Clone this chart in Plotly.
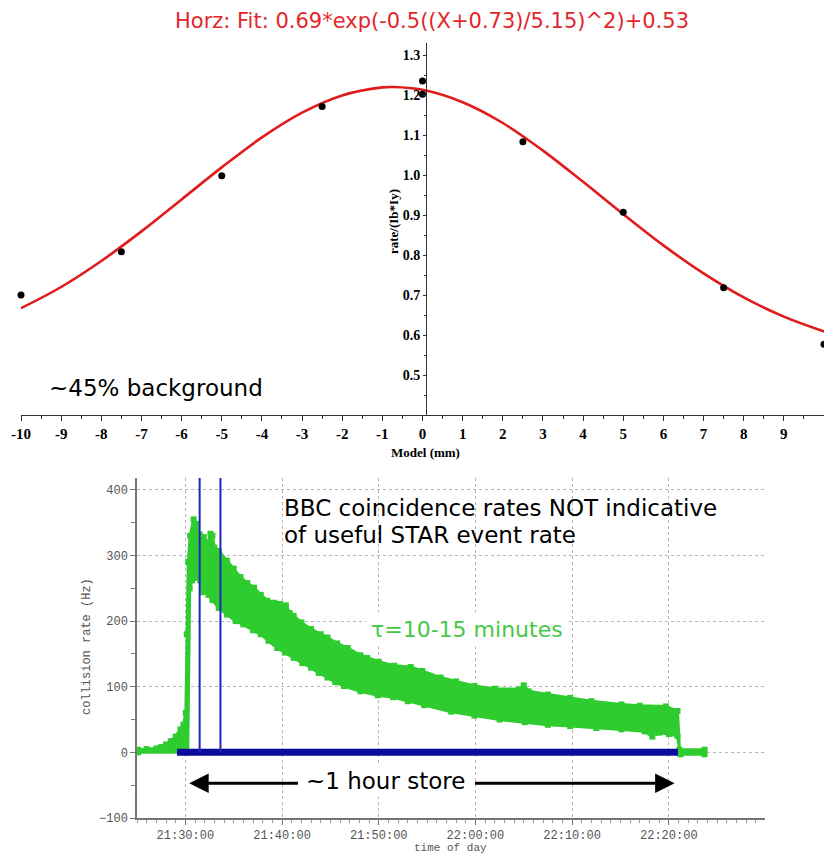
import plotly.graph_objects as go
import pandas as pd

# page is 832x864 and the HTML body keeps an 8 px margin: the figure fits inside it
OFF = 8
W, H = 832 - 2 * OFF, 864 - 2 * OFF


def PX(x):
    return (x - OFF) / W


def PY(y):
    return 1 - (y - OFF) / H


# ---------------- top chart data ----------------
scan_pos_mm = [-10, -7.5, -5, -2.5, 0, 0, 2.5, 5, 7.5, 10]
scan_rate = [0.70, 0.808, 0.998, 1.171, 1.235, 1.202, 1.083, 0.907, 0.718, 0.577]

fit_x = [-10, -9, -8, -7, -6, -5, -4, -3, -2, -1, -0.73, 0, 1, 2, 3, 4, 5, 6, 7, 8, 9, 10]
fit_y = [0.667, 0.720, 0.785, 0.859, 0.939, 1.019, 1.094, 1.156, 1.199, 1.219, 1.220,
         1.213, 1.182, 1.130, 1.061, 0.983, 0.902, 0.824, 0.754, 0.694, 0.646, 0.609]

top_yticks = [0.5, 0.6, 0.7, 0.8, 0.9, 1.0, 1.1, 1.2, 1.3]
top_xticks = list(range(-10, 11))

# ---------------- bottom chart data (minutes after 21:30:00) ----------------
upper_min = [-4.9, -4.0, -3.0, -2.5, -2.0, -1.5, -1.0, -0.5, -0.2,
             0.05, 0.15, 0.3, 0.5, 0.86, 1.1, 1.5, 1.9, 2.3, 2.6,
             2.8, 3.0, 3.45, 4.3, 5.0, 5.7, 6.4, 7.1, 7.8, 8.5,
             9.2, 9.8, 10.4, 10.8, 11.2, 12.0, 13.0, 14.0, 14.7, 15.7,
             16.8, 18.1, 18.8, 20.0, 21.6, 23.3, 24.5, 26.4, 28.0, 29.9,
             32.0, 34.5, 35.0, 35.5, 37.5, 39.8, 42.0, 45.1, 47.0, 49.7,
             50.9, 51.1, 53.7]
upper_rate = [4, 5, 6, 8, 12, 17, 24, 35, 42,
              60, 180, 290, 330, 355, 348, 332, 328, 318, 333,
              330, 312, 307, 292, 280, 267, 258, 251, 240, 231,
              228, 226, 224, 212, 208, 198, 188, 180, 175, 166,
              159, 148, 144, 138, 132, 130, 124, 114, 108, 101,
              97, 96, 102, 93, 88, 83, 78, 73, 71, 70,
              63, 4, 4]
lower_min = [-4.9, 0.25, 0.45, 0.7, 1.0, 1.3, 1.55, 1.75, 2.0, 2.4,
             2.8, 3.45, 4.3, 5.2, 6.0, 7.0, 7.8, 8.6, 9.5, 10.3,
             11.2, 12.1, 13.0, 13.8, 14.7, 15.5, 16.4, 18.1, 19.9, 21.5,
             23.0, 24.7, 27.5, 29.9, 32.5, 35.1, 37.5, 39.8, 42.5, 45.1,
             47.5, 48.3, 48.6, 49.0, 50.0, 50.9, 51.2, 53.7]
lower_rate = [0, 0, 250, 262, 266, 267, 262, 244, 246, 240,
              232, 220, 210, 200, 195, 186, 180, 170, 159, 152,
              144, 136, 129, 121, 114, 107, 101, 93, 87, 84,
              78, 72, 62, 56, 50, 46, 42, 40, 37, 35,
              32, 24, 30, 30, 28, 25, -3, -3]

blue_marker_min = [1.48, 3.63]
blue_base_min = [-0.86, 50.95]
blue_base_rate = [0, 0]

BASE = pd.Timestamp("2009-05-01 21:30:00")


def ts(minutes):
    return [(BASE + pd.Timedelta(minutes=m)).strftime("%Y-%m-%d %H:%M:%S.%f") for m in minutes]


Y2_RANGE = [-100, 418]
X2_RANGE = ts([-5, 59.95])

GREEN = "#2fcc2f"

fig = go.Figure()

# top chart traces
fig.add_trace(go.Scatter(x=fit_x, y=fit_y, mode="lines", line=dict(color="#e01b1b", width=2.6, shape="spline"),
                         xaxis="x", yaxis="y", hoverinfo="skip"))
fig.add_trace(go.Scatter(x=scan_pos_mm, y=scan_rate, mode="markers", marker=dict(color="black", size=7),
                         xaxis="x", yaxis="y", cliponaxis=False))

# bottom chart traces
poly_x = ts(upper_min) + ts(lower_min[::-1])
poly_y = upper_rate + lower_rate[::-1]
fig.add_trace(go.Scatter(x=poly_x, y=poly_y, mode="lines+markers", fill="toself", fillcolor=GREEN,
                         line=dict(color=GREEN, width=3), marker=dict(color=GREEN, size=6, symbol="square"),
                         xaxis="x2", yaxis="y2"))
fig.add_trace(go.Scatter(x=ts(blue_base_min), y=blue_base_rate, mode="lines",
                         line=dict(color="#0c0c9c", width=7), xaxis="x2", yaxis="y2"))
vx, vy = [], []
for m in blue_marker_min:
    vx += ts([m, m]) + [None]
    vy += [0, Y2_RANGE[1], None]
fig.add_trace(go.Scatter(x=vx, y=vy, mode="lines", line=dict(color="#2222c0", width=2),
                         xaxis="x2", yaxis="y2", connectgaps=False))

serif_b = dict(family="Liberation Serif", size=15, color="black", weight="bold")
mono = dict(family="Liberation Mono", size=12, color="#555555")

fig.update_layout(
    width=W, height=H, margin=dict(l=0, r=0, t=0, b=0, autoexpand=False),
    paper_bgcolor="white", plot_bgcolor="white", showlegend=False,
    xaxis=dict(domain=[PX(21), PX(824)], range=[-10, 10], anchor="y", automargin=False,
               tickmode="array", tickvals=top_xticks, ticktext=[str(v) for v in top_xticks],
               ticks="outside", ticklen=5, tickcolor="#333", showline=True, linecolor="#333", linewidth=1,
               minor=dict(tickmode="linear", tick0=-10, dtick=0.5, ticks="outside", ticklen=3, tickcolor="#333"),
               showgrid=False, zeroline=False, tickfont=serif_b),
    yaxis=dict(domain=[PY(415), PY(43)], range=[0.4, 1.33], anchor="free", position=PX(426),
               automargin=False,
               tickmode="array", tickvals=top_yticks, ticktext=[f"{v:.1f}" for v in top_yticks],
               ticks="outside", ticklen=3, tickcolor="#333", showline=True, linecolor="#333", linewidth=1,
               minor=dict(tickmode="linear", tick0=0.4, dtick=0.05, ticks="outside", ticklen=2, tickcolor="#333"),
               showgrid=False, zeroline=False, tickfont=dict(serif_b, size=14)),
    xaxis2=dict(domain=[PX(137), PX(765)], range=X2_RANGE, type="date", anchor="y2", automargin=False,
                tick0=ts([0])[0], dtick=600000, tickformat="%H:%M:%S",
                ticks="outside", ticklen=5, tickcolor="#777", showline=True, linecolor="#777", linewidth=1.5,
                minor=dict(dtick=60000, ticks="outside", ticklen=3, tickcolor="#999", showgrid=False),
                showgrid=True, gridcolor="#b5b5b5", griddash="dot", gridwidth=1, zeroline=False, tickfont=mono),
    yaxis2=dict(domain=[PY(818), PY(478)], range=Y2_RANGE, anchor="x2", automargin=False,
                tick0=0, dtick=100, ticks="outside", ticklen=5, tickcolor="#777",
                showline=True, linecolor="#777", linewidth=1.5,
                minor=dict(tick0=0, dtick=50, ticks="outside", ticklen=4, tickcolor="#777", showgrid=False),
                showgrid=True, gridcolor="#b5b5b5", griddash="dot", gridwidth=1, zeroline=False, tickfont=mono),
)

sans = "DejaVu Sans"


def px_ann(text, x, y, size, color="black", family=sans, xanchor="center", angle=0, bg=None, weight="normal", pad=1):
    d = dict(text=text, x=PX(x), y=PY(y), xref="paper", yref="paper", showarrow=False,
             xanchor=xanchor, yanchor="middle", textangle=angle, borderpad=pad,
             font=dict(family=family, size=size, color=color, weight=weight))
    if bg:
        d["bgcolor"] = bg
    fig.add_annotation(**d)


# white box behind the BBC note (hides grid lines, below traces)
fig.add_shape(type="rect", xref="paper", yref="paper", x0=PX(262), x1=PX(742), y0=PY(552), y1=PY(484),
              fillcolor="white", line=dict(width=0), layer="between")

px_ann("Horz: Fit: 0.69*exp(-0.5((X+0.73)/5.15)^2)+0.53", 432, 21, 21, color="#e3262b")
px_ann("~45% background", 47, 388, 23, xanchor="left")
px_ann("Model (mm)", 426, 452, 13, family="Liberation Serif", weight="bold")
px_ann("rate/(Ib*Iy)", 393, 222, 13, family="Liberation Serif", weight="bold", angle=-90)

px_ann("BBC coincidence rates NOT indicative", 282, 508, 23, xanchor="left")
px_ann("of useful STAR event rate", 282, 535, 23, xanchor="left")
px_ann("τ=10-15 minutes", 366, 629, 22, color="#46c846", xanchor="left", bg="white", pad=4)
px_ann("~1 hour store", 385, 781, 23, bg="white", pad=2)
px_ann("collision rate (Hz)", 87, 647, 12, color="#555555", family="Liberation Mono", angle=-90)
px_ann("time of day", 451, 848, 11, color="#555555", family="Liberation Mono")

ARROW_Y = -47
for tail, tip in [(11.8, 0.4), (29.8, 50.6)]:
    fig.add_annotation(x=ts([tip])[0], y=ARROW_Y, ax=ts([tail])[0], ay=ARROW_Y,
                       xref="x2", yref="y2", axref="x2", ayref="y2", text="",
                       showarrow=True, arrowhead=2, arrowsize=1.3, arrowwidth=3, arrowcolor="black")

fig.write_html("out.html")
